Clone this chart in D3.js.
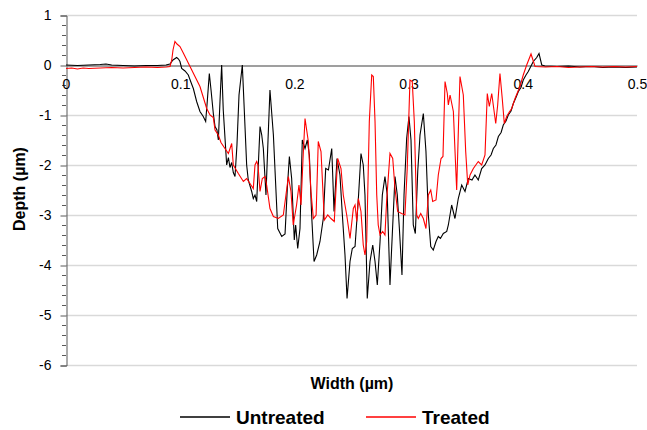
<!DOCTYPE html>
<html><head><meta charset="utf-8">
<script src="https://cdn.jsdelivr.net/npm/d3@7/dist/d3.min.js"></script>
<style>body{margin:0;background:#fff}svg{display:block}text{font-family:"Liberation Sans",Arial,sans-serif}</style>
</head><body><svg id="c" width="647" height="430"></svg>
<script>
const yTicks = [1,0,-1,-2,-3,-4,-5,-6];
const xTicks = [0,0.1,0.2,0.3,0.4,0.5];
const seriesNames = ["Untreated","Treated"];
const seriesColors = ["#000000","#ff0000"];

const untreatedX = [0,0.01,0.02,0.03,0.035,0.04,0.05,0.06,0.07,0.08,0.0876,0.091,0.0937,0.0969,0.0985,0.0998,0.1013,0.1042,0.1071,0.1095,0.1115,0.1144,0.1173,0.1202,0.1223,0.1238,0.1255,0.127,0.129,0.1305,0.1322,0.1334,0.1349,0.1363,0.1377,0.1407,0.1422,0.1436,0.1451,0.1465,0.148,0.1497,0.1515,0.1544,0.1563,0.1582,0.1596,0.1626,0.164,0.1655,0.167,0.1684,0.1699,0.1714,0.1728,0.1751,0.1769,0.1786,0.1816,0.1854,0.1889,0.1918,0.1938,0.1956,0.1976,0.1999,0.2011,0.2029,0.2049,0.2069,0.2093,0.2113,0.2131,0.2151,0.2172,0.2195,0.2224,0.2253,0.2274,0.2298,0.2327,0.2347,0.2373,0.2399,0.242,0.2443,0.2461,0.2487,0.2507,0.2531,0.2546,0.2562,0.2583,0.2603,0.2618,0.2638,0.2662,0.2686,0.2706,0.2726,0.275,0.277,0.2793,0.2813,0.2837,0.2857,0.2881,0.2901,0.292,0.2942,0.296,0.2983,0.3003,0.3021,0.3041,0.3059,0.308,0.31,0.3129,0.3152,0.3173,0.3194,0.3216,0.324,0.326,0.3279,0.3304,0.3334,0.3348,0.3377,0.3406,0.3435,0.3465,0.3494,0.3523,0.3555,0.3581,0.361,0.364,0.3669,0.3698,0.3722,0.3742,0.3765,0.3786,0.381,0.3829,0.3853,0.3873,0.3897,0.3917,0.394,0.3961,0.3984,0.4004,0.4028,0.4048,0.4072,0.4092,0.4122,0.4142,0.4166,0.4194,0.43,0.44,0.45,0.46,0.47,0.48,0.49,0.5];
const untreatedY = [0,-0.01,0,0.01,0.02,0,-0.01,-0.02,-0.01,-0.01,0,0.02,0.1,0.15,0.12,0.07,-0.07,-0.12,-0.2,-0.35,-0.47,-0.73,-0.93,-1.03,-1.13,-0.7,-0.17,-0.5,-0.97,-1.23,-1.3,-1.5,-0.7,0,-0.9,-2,-1.85,-2.05,-1.95,-2.15,-2.23,-1.6,-0.6,0,-1,-2,-2.3,-2.53,-2.67,-2.6,-2.73,-2,-1.23,-1.4,-1.67,-2.6,-1.5,-0.5,-1.4,-3.27,-3.43,-3.38,-2.47,-1.83,-2.27,-3.5,-3.2,-3.67,-3.27,-1.5,-1.67,-1.5,-1.8,-3,-3.93,-3.8,-3.53,-3.07,-2.07,-2.1,-1.67,-2.93,-1.87,-2.2,-3,-3.8,-4.67,-3.93,-3.67,-3.63,-3.13,-2.6,-1.77,-2,-2.6,-4.67,-3.93,-3.6,-3.93,-4.4,-3.53,-2.6,-2.23,-2.6,-4.4,-3.4,-2.23,-2.6,-3.3,-4.2,-2.6,-1.47,-1.03,-1.5,-3.2,-3.37,-2.13,-1.4,-0.97,-1.73,-3,-3.63,-3.7,-3.53,-3.43,-3.47,-3.37,-3.33,-3.2,-2.8,-3.07,-2.67,-2.4,-2.53,-2.27,-2.3,-2.2,-2.3,-2.07,-2,-1.87,-1.8,-1.67,-1.6,-1.43,-1.35,-1.2,-1.12,-1,-0.92,-0.77,-0.65,-0.53,-0.45,-0.3,-0.2,-0.13,-0.02,0.07,0.15,0.23,0,-0.02,-0.03,-0.02,-0.04,-0.03,-0.05,-0.04,-0.05,-0.04];

const treatedX = [0,0.005,0.01,0.015,0.02,0.03,0.04,0.05,0.06,0.07,0.08,0.088,0.0911,0.0926,0.0937,0.0954,0.0972,0.0998,0.1025,0.1173,0.1232,0.1261,0.129,0.1305,0.1334,0.1357,0.1392,0.1422,0.1451,0.1465,0.1509,0.1553,0.1582,0.1611,0.164,0.1655,0.167,0.1681,0.1699,0.1719,0.1743,0.1757,0.1786,0.1816,0.1859,0.1903,0.1926,0.1947,0.197,0.199,0.2019,0.204,0.2058,0.2075,0.2093,0.2122,0.2145,0.2166,0.219,0.2209,0.2233,0.2262,0.2292,0.232,0.2349,0.2364,0.2379,0.2408,0.2428,0.2458,0.2487,0.2516,0.2531,0.2546,0.256,0.2583,0.2603,0.2618,0.2633,0.2656,0.2677,0.2691,0.2706,0.2721,0.2734,0.275,0.2773,0.2793,0.2808,0.2837,0.2861,0.2881,0.2904,0.2939,0.2968,0.2988,0.3012,0.3032,0.305,0.3071,0.3085,0.3106,0.3129,0.3152,0.3173,0.3194,0.3211,0.324,0.326,0.3284,0.3301,0.3319,0.3339,0.3348,0.3363,0.3392,0.3406,0.3421,0.3437,0.345,0.3479,0.35,0.3518,0.3538,0.3567,0.361,0.364,0.3669,0.3689,0.3707,0.3728,0.3763,0.378,0.38,0.382,0.3838,0.3859,0.3879,0.3903,0.3932,0.3975,0.4004,0.4034,0.4072,0.4089,0.4107,0.42,0.43,0.44,0.45,0.46,0.47,0.48,0.49,0.5];
const treatedY = [-0.07,-0.06,-0.08,-0.06,-0.07,-0.06,-0.05,-0.06,-0.05,-0.04,-0.05,-0.04,-0.03,0.1,0.3,0.47,0.42,0.37,0.25,-0.43,-0.87,-1,-1.05,-1.3,-1.4,-1.55,-1.67,-1.77,-1.57,-2,-2.17,-2.33,-2.27,-2.37,-2.47,-2,-1.93,-2,-2.53,-2.27,-2.23,-2.4,-2.87,-3.03,-3.07,-3,-2.6,-2.23,-2.53,-3.2,-2.8,-2.4,-2.8,-1.9,-1.07,-1.53,-2.53,-3.07,-3,-1.53,-1.73,-3.1,-3,-3.07,-3.13,-2.5,-1.87,-2.07,-2.6,-3,-3.47,-2.87,-2.8,-3.13,-2.67,-2.93,-3.6,-3.8,-3.53,-1.13,-0.2,-0.23,-1.13,-2.6,-3.2,-3.4,-3.33,-3.4,-2.7,-1.77,-1.87,-2.47,-2.93,-2.97,-3,-2.07,-0.3,-0.33,-1.13,-3,-3.07,-2.97,-3.07,-3.27,-2.6,-2.5,-2.73,-2.7,-2.2,-1.87,-1.83,-0.33,-0.57,-0.8,-0.6,-0.93,-1.7,-2.5,-1.2,-0.23,-0.6,-1.73,-2.4,-2.2,-2.07,-1.93,-2,-1.8,-0.57,-0.83,-0.57,-1.17,-0.8,-0.17,-0.67,-1.17,-1.03,-0.95,-0.87,-0.67,-0.43,-0.2,0,0.22,0.1,-0.03,-0.04,-0.03,-0.05,-0.04,-0.03,-0.04,-0.03,-0.04,-0.03];

const svg = d3.select("#c");
const x = d3.scaleLinear().domain([0,0.5]).range([66,637]);
const y = d3.scaleLinear().domain([-6,1]).range([365,15]);
const FONT = "Liberation Sans, Arial, sans-serif";

// gridlines
svg.append("g").selectAll("line").data(yTicks.filter(d=>d!==0)).join("line")
  .attr("x1",66).attr("x2",637).attr("y1",d=>y(d)+0.5).attr("y2",d=>y(d)+0.5)
  .attr("stroke","#d9d9d9").attr("stroke-width",1.3);

// y axis
const yAxis = d3.axisLeft(y).tickValues(yTicks).tickSize(6).tickPadding(9).tickFormat(d=>String(d));
const yg = svg.append("g").attr("transform","translate(66.5,0.5)").call(yAxis);
yg.select(".domain").attr("stroke","#595959");
yg.selectAll(".tick line").attr("stroke","#595959");
yg.selectAll(".tick text").attr("font-size",14).attr("fill","#000").attr("font-family",FONT);
// minor ticks
const minor = d3.range(-6,1.0001,0.2).map(v=>Math.round(v*10)/10).filter(v=>Math.abs(v-Math.round(v))>1e-6);
svg.append("g").selectAll("line").data(minor).join("line")
  .attr("x1",62).attr("x2",66).attr("y1",d=>Math.round(y(d))+0.5).attr("y2",d=>Math.round(y(d))+0.5)
  .attr("stroke","#595959");

// x axis at y=0
const xAxis = d3.axisBottom(x).tickValues(xTicks).tickSize(0).tickPadding(14).tickFormat(d=>String(d));
const xg = svg.append("g").attr("transform",`translate(0,${y(0)+0.5})`).call(xAxis);
xg.select(".domain").attr("stroke","#7f7f7f").attr("stroke-width",1.3);
xg.selectAll(".tick text").attr("font-size",14).attr("fill","#000").attr("font-family",FONT);

// lines
const line = d3.line().x(d=>x(d[0])).y(d=>y(d[1]));
const dataU = untreatedX.map((v,i)=>[v,untreatedY[i]]);
const dataT = treatedX.map((v,i)=>[v,treatedY[i]]);
svg.append("path").datum(dataU).attr("d",line).attr("fill","none").attr("stroke",seriesColors[0]).attr("stroke-width",1.1);
svg.append("path").datum(dataT).attr("d",line).attr("fill","none").attr("stroke",seriesColors[1]).attr("stroke-width",1.1);

// axis titles
svg.append("text").attr("x",352).attr("y",389).attr("text-anchor","middle")
  .attr("font-size",16).attr("font-weight","bold").text("Width (µm)");
svg.append("text").attr("transform","translate(25,189) rotate(-90)").attr("text-anchor","middle")
  .attr("font-size",16).attr("font-weight","bold").text("Depth (µm)");

// legend
const legendX = [180,366];
const lg = svg.append("g");
seriesNames.forEach((n,i)=>{
  lg.append("line").attr("x1",legendX[i]).attr("x2",legendX[i]+50).attr("y1",417).attr("y2",417)
    .style("stroke",seriesColors[i]).style("stroke-width","1.5px");
  lg.append("text").attr("x",legendX[i]+56).attr("y",424).attr("font-size",19).attr("font-weight","bold").text(n);
});
</script></body></html>
